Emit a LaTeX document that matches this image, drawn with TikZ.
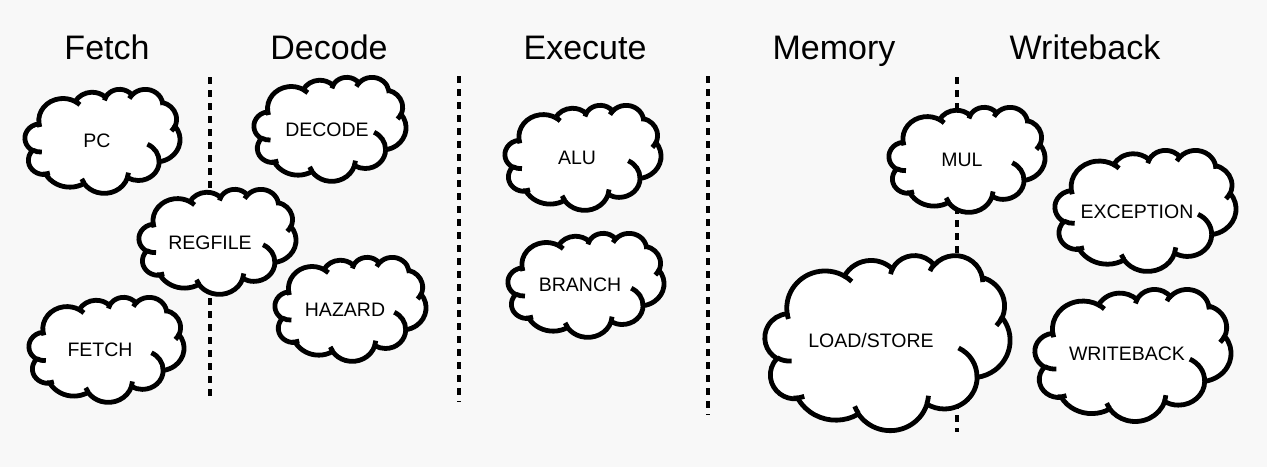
\documentclass[tikz,border=0pt]{standalone}
\usepackage{fontspec}
\setmainfont{Liberation Sans}
\definecolor{slidebg}{RGB}{248,248,248}

% visual angle -> parametric angle of an ellipse
\newcommand{\va}[3]{(#3)+mod(atan2((#1)*sin(#3),(#2)*cos(#3))-(#3)+540,360)-180}
\newcommand{\puff}[4]{arc[x radius=#1, y radius=#2, start angle={\va{#1}{#2}{#3}}, end angle={\va{#1}{#2}{#3+#4}}]}

% cloud outline in a 43.2 x 43.2 box
\newcommand{\cloudbody}{(3.900,14.370)
  \puff{6.753}{9.190}{-190.488}{123.781}
  \puff{5.333}{7.267}{-144.102}{89.945}
  \puff{4.365}{5.945}{-145.808}{99.723}
  \puff{4.857}{6.595}{-130.986}{117.242}
  \puff{5.333}{7.273}{-78.709}{109.027}
  \puff{6.775}{9.220}{-46.267}{130.269}
  \puff{5.785}{7.867}{0.625}{114.033}
  \puff{6.752}{9.215}{22.452}{115.173}
  \puff{7.720}{10.543}{66.243}{75.711}
  \puff{4.360}{5.918}{-274.942}{146.736}
  \puff{4.345}{5.945}{-246.829}{152.519} -- cycle}
\newcommand{\cloudhooks}{
  (4.693,26.177) \puff{4.345}{5.945}{86.742}{26.430}
  (6.928,34.899) \puff{4.360}{5.918}{73.611}{19.145}
  (16.478,39.090) \puff{6.752}{9.215}{137.624}{14.081}
  (28.827,34.751) \puff{6.752}{9.215}{6.453}{15.998}
  (34.129,22.954) \puff{5.785}{7.867}{-70.292}{70.917}
  (41.798,15.354) \puff{5.333}{7.273}{30.318}{21.448}
  (38.324,5.426) \puff{4.857}{6.595}{-13.744}{14.859}
  (29.078,3.952) \puff{4.857}{6.595}{-149.182}{18.195}
  (22.141,4.720) \puff{4.365}{5.945}{-163.494}{17.686}
  (14.000,5.192) \puff{6.753}{9.190}{-66.707}{12.319}
  (4.127,15.789) \puff{6.753}{9.190}{157.654}{11.858}}
\newcommand{\stagecloud}[4]{%
  \begin{scope}[shift={(#1,#2)}, xscale=#3/43.2, yscale=#4/43.2]
    \filldraw[puffline] \cloudbody;
    \draw[puffline] \cloudhooks;
  \end{scope}}

\begin{document}
\begin{tikzpicture}[x=1pt, y=-1pt,
    puffline/.style={line width=4.8pt, draw=black, fill=white},
    stage/.style={font=\fontsize{34}{40}\selectfont, anchor=base, inner sep=0pt},
    unit/.style={font=\fontsize{19.5}{23}\selectfont, text height=14pt, text depth=0pt, inner sep=0pt},
    divider/.style={line width=3.4pt, dash pattern=on 7pt off 6pt}]
			\fill[slidebg] (0,0) rectangle (1267,467);
			\useasboundingbox (0,0) rectangle (1267,467);

			% stage titles
			\node[stage] (fetchT) at (107,59.5) {Fetch};
			\node[stage] (decodeT) at (329,59.5) {Decode};
			\node[stage] (executeT) at (585,59.5) {Execute};
			\node[stage] (memoryT) at (834,59.5) {Memory};
			\node[stage] (writebackT) at (1085,59.5) {Writeback};

			% stage borders
			\draw[divider] (210,77) -- (210,402);
			\draw[divider] (459,76) -- (459,402);
			\draw[divider] (708,76) -- (708,415);
			\draw[divider] (957,77) -- (957,432);

			% units
			\stagecloud{25}{89}{155}{104}
			\node[unit] (pc) at (97,140) {PC};
			\stagecloud{254}{77}{152}{104}
			\node[unit] (decode) at (327,129) {DECODE};
			\stagecloud{139}{189}{157}{105}
			\node[unit] (regfile) at (210,242) {REGFILE};
			\stagecloud{29}{297}{155}{105}
			\node[unit] (fetch) at (100,349) {FETCH};
			\stagecloud{275}{257}{151}{104}
			\node[unit] (hazard) at (345,309) {HAZARD};
			\stagecloud{505}{105}{156}{105}
			\node[unit] (alu) at (577,157) {ALU};
			\stagecloud{508}{233}{156}{104}
			\node[unit] (branch) at (580,284) {BRANCH};
			\stagecloud{889}{107}{156}{105}
			\node[unit] (mul) at (962,159) {MUL};
			\stagecloud{765}{255}{245}{175}
			\node[unit] (loadstore) at (871,340) {LOAD/STORE};
			\stagecloud{1055}{150}{181}{121}
			\node[unit] (exception) at (1137,211) {EXCEPTION};
			\stagecloud{1035}{289}{196}{132}
			\node[unit] (writeback) at (1127,353) {WRITEBACK};
\end{tikzpicture}
\end{document}
